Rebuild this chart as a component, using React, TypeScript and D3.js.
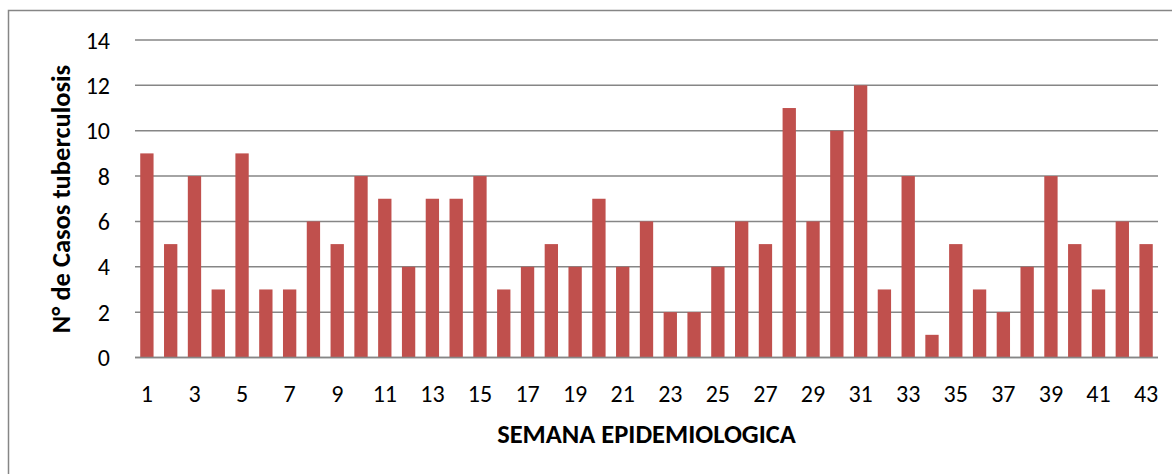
import React from "react";
import * as d3 from "d3";

const semanas: number[] = Array.from({ length: 43 }, (_, i) => i + 1);
const casos: number[] = [9, 5, 8, 3, 9, 3, 3, 6, 5, 8, 7, 4, 7, 7, 8, 3, 4, 5, 4, 7, 4, 6, 2, 2, 4, 6, 5, 11, 6, 10, 12, 3, 8, 1, 5, 3, 2, 4, 8, 5, 3, 6, 5];
const yTicks: number[] = [0, 2, 4, 6, 8, 10, 12, 14];
const xTitle = "SEMANA EPIDEMIOLOGICA";
const yTitle = "N° de Casos tuberculosis";

const W = 1172;
const H = 474;
const FONT = "Carlito, Calibri, Lato, sans-serif";

export default function App() {
  const left = 135, right = 1158, top = 40, bottom = 357.5;
  const x = d3.scaleBand<number>().domain(semanas).range([left, right]).paddingInner(0.44).paddingOuter(0.22);
  const y = d3.scaleLinear().domain([0, 14]).range([bottom, top]);
  return (
    <svg width={W} height={H} style={{ position: "absolute", left: 0, top: 0 }} fontFamily={FONT}>
      <rect x={0} y={0} width={W} height={H} fill="#fff" />
      <rect x={8.5} y={10.5} width={1200} height={500} fill="none" stroke="#868686" strokeWidth={1.5} />
      {yTicks.map((t) => (
        <g key={t}>
          <line x1={left} x2={right} y1={y(t)} y2={y(t)} stroke="#868686" strokeWidth={1.5} />
          <text x={110} y={y(t)} dy="0.36em" textAnchor="end" fontSize={24} fill="#000">{t}</text>
        </g>
      ))}
      {casos.map((v, i) => (
        <rect key={i} x={x(semanas[i])} y={y(v)} width={x.bandwidth()} height={y(0) - y(v)} fill="#C0504D" />
      ))}
      <line x1={left} x2={right} y1={y(0)} y2={y(0)} stroke="#868686" strokeWidth={1.5} />
      {semanas.filter((s) => s % 2 === 1).map((s) => (
        <text key={s} x={(x(s) as number) + x.bandwidth() / 2} y={393.5} dy="0.36em" textAnchor="middle" fontSize={24} fill="#000">{s}</text>
      ))}
      <text x={(left + right) / 2} y={433} dy="0.36em" textAnchor="middle" fontSize={26.5} fontWeight="bold" fill="#000">{xTitle}</text>
      <text transform={`translate(60,199) rotate(-90)`} dy="0.36em" textAnchor="middle" fontSize={26.5} fontWeight="bold" fill="#000">{yTitle}</text>
    </svg>
  );
}
